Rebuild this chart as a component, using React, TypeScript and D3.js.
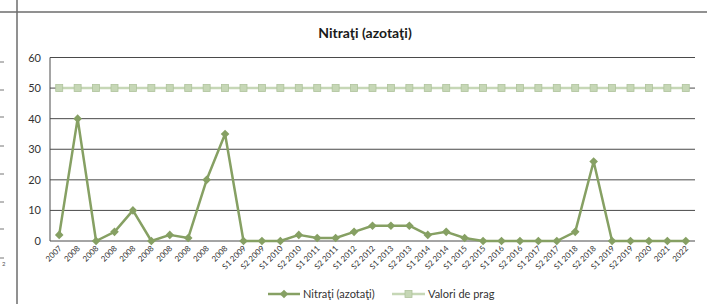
import React from "react";
import * as d3 from "d3";

const categories: string[] = [
  "2007", "2008", "2008", "2008", "2008", "2008", "2008", "2008", "2008", "2008",
  "S1 2009", "S2 2009", "S1 2010", "S2 2010", "S1 2011", "S2 2011",
  "S1 2012", "S2 2012", "S1 2013", "S2 2013", "S1 2014", "S2 2014",
  "S1 2015", "S2 2015", "S1 2016", "S2 2016", "S1 2017", "S2 2017",
  "S1 2018", "S2 2018", "S1 2019", "S2 2019", "2020", "2021", "2022",
];
const nitrati: number[] = [
  2, 40, 0, 3, 10, 0, 2, 1, 20, 35,
  0, 0, 0, 2, 1, 1,
  3, 5, 5, 5, 2, 3,
  1, 0, 0, 0, 0, 0,
  3, 26, 0, 0, 0, 0, 0,
];
const prag: number[] = categories.map(() => 50);
const yTicks: number[] = [0, 10, 20, 30, 40, 50, 60];
const seriesNames: string[] = ["Nitraţi (azotaţi)", "Valori de prag"];
const sideTicks: number[] = [62, 90, 117, 146, 174, 202, 229, 258];

const W = 707;
const H = 304;
const FONT = "Lato, 'Open Sans', sans-serif";
const C1 = "#86a063";
const C2 = "#c6d7b6";
const C2S = "#aec39c";

export default function App() {
  const left = 50, right = 695, top = 57.5, bottom = 241;
  const x = d3.scaleBand<number>().domain(categories.map((_, i) => i)).range([left, right]);
  const y = d3.scaleLinear().domain([0, 60]).range([bottom, top]);
  const cx = (i: number) => (x(i) as number) + x.bandwidth() / 2;
  const line = d3.line<number>().x((_, i) => cx(i)).y((d) => y(d));

  const diamond = (px: number, py: number, r = 4.3) =>
    `M${px},${py - r}L${px + r},${py}L${px},${py + r}L${px - r},${py}Z`;

  return (
    <svg width={W} height={H} style={{ position: "absolute", left: 0, top: 0, background: "#fff" }}>
      {/* frame */}
      <line x1={0} x2={W} y1={12} y2={12} stroke="#6d6d6d" strokeWidth={1.5} />
      <line x1={17} x2={17} y1={0} y2={H} stroke="#6d6d6d" strokeWidth={1.5} />
      {sideTicks.map((t, i) => (
        <line key={i} x1={0} x2={4} y1={t} y2={t} stroke="#777" strokeWidth={1} />
      ))}
      <text x={2} y={266} fontSize={6} fontFamily={FONT} fill="#555">2</text>

      <text x={365} y={38} textAnchor="middle" fontFamily={FONT} fontWeight="bold" fontSize={14} fill="#1a1a1a">
        {seriesNames[0]}
      </text>

      {/* gridlines */}
      {yTicks.map((t) => (
        <g key={t}>
          <line x1={left} x2={right} y1={y(t)} y2={y(t)} stroke="#4a4a4a" strokeWidth={1} />
          <text x={41} y={y(t) + 4} textAnchor="end" fontFamily={FONT} fontSize={11} fill="#333">
            {t}
          </text>
        </g>
      ))}
      <line x1={left} x2={left} y1={top} y2={bottom} stroke="#4a4a4a" strokeWidth={1} />

      {/* threshold series */}
      <path d={line(prag) || ""} fill="none" stroke={C2} strokeWidth={2.5} />
      {prag.map((v, i) => (
        <rect key={i} x={cx(i) - 3.5} y={y(v) - 3.5} width={7} height={7} fill={C2} stroke={C2S} strokeWidth={0.8} />
      ))}

      {/* nitrati series */}
      <path d={line(nitrati) || ""} fill="none" stroke={C1} strokeWidth={2.5} strokeLinejoin="round" />
      {nitrati.map((v, i) => (
        <path key={i} d={diamond(cx(i), y(v))} fill={C1} />
      ))}

      {/* x labels */}
      {categories.map((c, i) => (
        <text
          key={i}
          transform={`translate(${cx(i) + 3},${bottom + 8}) rotate(-45)`}
          textAnchor="end"
          fontFamily={FONT}
          fontSize={8}
          fill="#333"
        >
          {c}
        </text>
      ))}

      {/* legend */}
      <line x1={268} x2={300} y1={294} y2={294} stroke={C1} strokeWidth={2.5} />
      <path d={diamond(284, 294)} fill={C1} />
      <text x={303} y={298} fontFamily={FONT} fontSize={11} fill="#333">{seriesNames[0]}</text>
      <line x1={392} x2={425} y1={294} y2={294} stroke={C2} strokeWidth={2.5} />
      <rect x={405} y={290.5} width={7} height={7} fill={C2} stroke={C2S} strokeWidth={0.8} />
      <text x={428} y={298} fontFamily={FONT} fontSize={11} fill="#333">{seriesNames[1]}</text>
    </svg>
  );
}
